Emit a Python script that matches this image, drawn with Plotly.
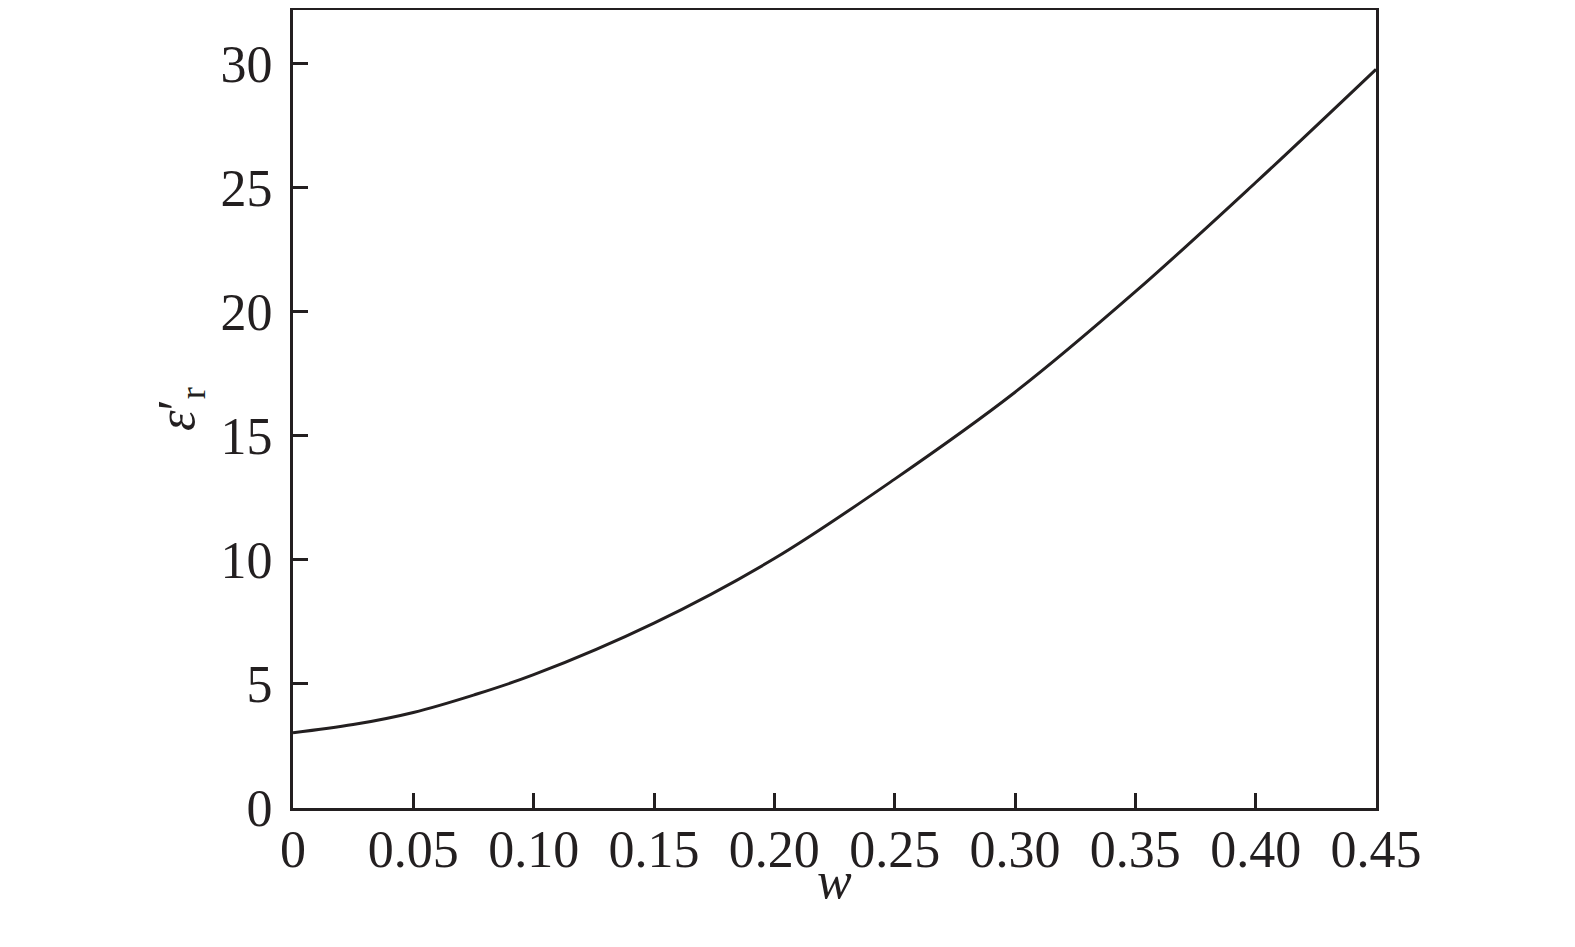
import plotly.graph_objects as go

w = [0, 0.025, 0.05, 0.075, 0.10, 0.15, 0.20, 0.25, 0.30, 0.35, 0.40, 0.45]
eps_r = [3.03, 3.36, 3.85, 4.55, 5.37, 7.45, 10.05, 13.25, 16.75, 20.8, 25.2, 29.76]

x_ticks = [0, 0.05, 0.10, 0.15, 0.20, 0.25, 0.30, 0.35, 0.40, 0.45]
x_tick_labels = ["0", "0.05", "0.10", "0.15", "0.20", "0.25", "0.30", "0.35", "0.40", "0.45"]
y_ticks = [0, 5, 10, 15, 20, 25, 30]

ink = "#231f20"
font = dict(family="Liberation Serif, Times New Roman, serif", size=52, color=ink)

fig = go.Figure(go.Scatter(x=w, y=eps_r, mode="lines",
                           line=dict(color=ink, width=3, shape="spline"),
                           hoverinfo="skip"))

fig.update_layout(
    width=1567, height=939,
    margin=dict(l=285, r=199, t=2, b=139),
    paper_bgcolor="white", plot_bgcolor="white",
    showlegend=False,
    font=font,
    xaxis=dict(range=[0, 0.45], tickvals=x_ticks, ticktext=x_tick_labels,
               ticks="inside", ticklen=15, tickwidth=3, tickcolor=ink,
               showline=True, linewidth=3, linecolor=ink, mirror=True,
               showgrid=False, zeroline=False, tickfont=font,
               automargin=False, ticklabelstandoff=-6),
    yaxis=dict(range=[0, 32.15], tickvals=y_ticks,
               ticks="inside", ticklen=15, tickwidth=3, tickcolor=ink,
               showline=True, linewidth=3, linecolor=ink, mirror=True,
               showgrid=False, zeroline=False, tickfont=font,
               automargin=False, ticklabelstandoff=7,
               title=dict(text="<i>ε</i>′<sub>r</sub>", font=font, standoff=10)),
    annotations=[dict(text="<i>w</i>", xref="paper", yref="paper", x=0.5, y=0,
                      yshift=-72, xanchor="center", yanchor="middle",
                      showarrow=False, font=font)],
)

fig.write_html("out.html")
